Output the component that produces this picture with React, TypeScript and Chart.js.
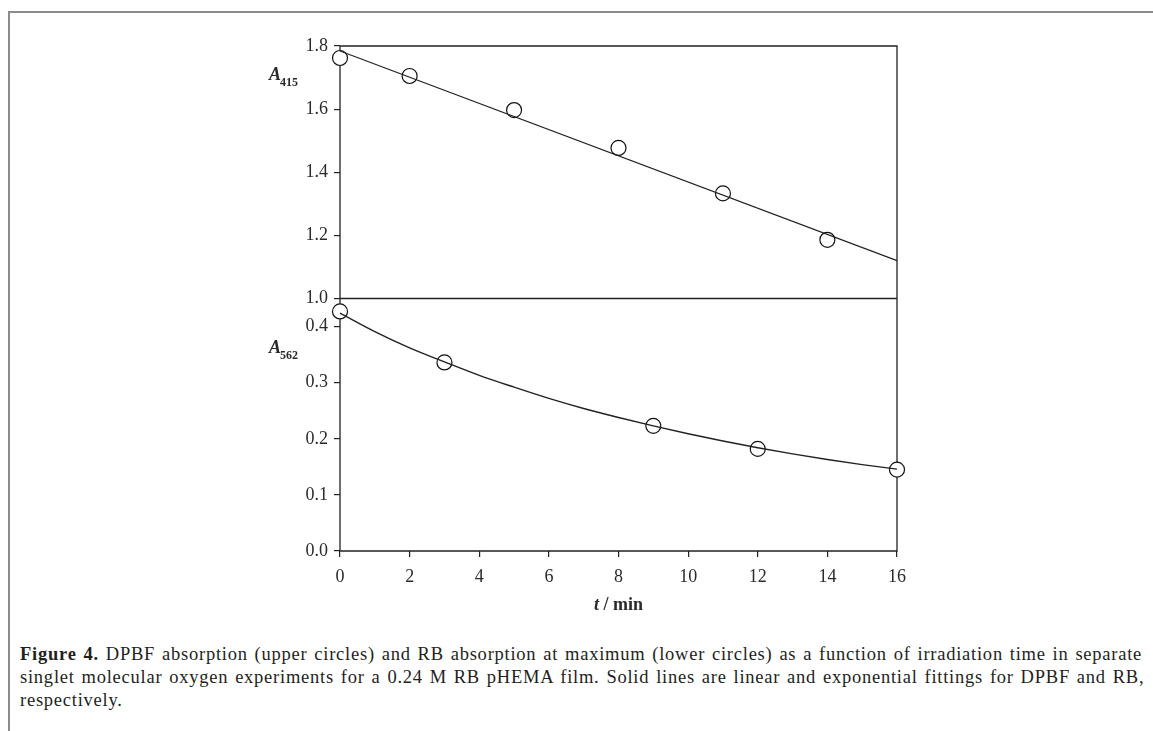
import React, { useEffect, useRef } from 'react';
import { Chart, registerables } from 'chart.js';

Chart.register(...registerables);

// ---- data ----
const X_TICKS = [0, 2, 4, 6, 8, 10, 12, 14, 16];
const UPPER_TICKS = [1.0, 1.2, 1.4, 1.6, 1.8];
const LOWER_TICKS = [0.0, 0.1, 0.2, 0.3, 0.4];

const DPBF_T = [0, 2, 5, 8, 11, 14];
const DPBF_A = [1.762, 1.705, 1.597, 1.477, 1.333, 1.186];
const DPBF_FIT_T = [0, 16];
const DPBF_FIT_A = [1.784, 1.12];

const RB_T = [0, 3, 9, 12, 16];
const RB_A = [0.427, 0.336, 0.223, 0.182, 0.145];
const RB_FIT_T = [0, 1, 2, 3, 4, 5, 6, 7, 8, 9, 10, 11, 12, 13, 14, 15, 16];
const RB_FIT_A = [0.424, 0.391, 0.362, 0.337, 0.313, 0.292, 0.272, 0.254, 0.238, 0.223, 0.209, 0.196, 0.184, 0.173, 0.163, 0.154, 0.146];

const LINE = '#222';
const TEXT = '#2a2a2a';
const FONT = '"Liberation Serif", "Times New Roman", serif';

const pts = (xs: number[], ys: number[]) => xs.map((x, i) => ({ x, y: ys[i] }));

const framePlugin = {
  id: 'frame',
  beforeDatasetsDraw(chart: any) {
    const { ctx, chartArea } = chart;
    const { left, right, top, bottom } = chartArea;
    const sep = chart.scales.yUp.bottom;
    ctx.save();
    ctx.strokeStyle = LINE;
    ctx.lineWidth = 1.3;
    ctx.beginPath();
    ctx.rect(left, top, right - left, bottom - top);
    ctx.moveTo(left, sep);
    ctx.lineTo(right, sep);
    ctx.stroke();
    ctx.restore();
  },
  afterDraw(chart: any) {
    const { ctx, chartArea } = chart;
    ctx.save();
    ctx.fillStyle = TEXT;
    ctx.textBaseline = 'alphabetic';
    const label = (x: number, y: number, sub: string) => {
      ctx.font = `italic bold 18px ${FONT}`;
      ctx.textAlign = 'left';
      ctx.fillText('A', x, y);
      const w = ctx.measureText('A').width;
      ctx.font = `bold 12px ${FONT}`;
      ctx.fillText(sub, x + w - 1, y + 6);
    };
    label(269, 80, '415');
    label(269, 353, '562');
    // x title: "t / min"
    const cx = (chartArea.left + chartArea.right) / 2;
    const y = 610;
    ctx.font = `italic bold 18px ${FONT}`;
    const wt = ctx.measureText('t').width;
    ctx.font = `bold 18px ${FONT}`;
    const wr = ctx.measureText(' / min').width;
    const x = cx - (wt + wr) / 2;
    ctx.font = `italic bold 18px ${FONT}`;
    ctx.fillText('t', x, y);
    ctx.font = `bold 18px ${FONT}`;
    ctx.fillText(' / min', x + wt, y);
    ctx.restore();
  },
};

export default function App() {
  const ref = useRef<HTMLCanvasElement | null>(null);

  useEffect(() => {
    if (!ref.current) return;
    const tickFont = { family: FONT, size: 18 };
    const chart = new Chart(ref.current, {
      type: 'scatter',
      data: {
        datasets: [
          {
            data: pts(DPBF_FIT_T, DPBF_FIT_A),
            yAxisID: 'yUp',
            showLine: true,
            borderColor: LINE,
            borderWidth: 1.1,
            pointRadius: 0,
            order: 0,
            clip: false as any,
          },
          {
            data: pts(RB_FIT_T, RB_FIT_A),
            yAxisID: 'yLow',
            showLine: true,
            borderColor: LINE,
            borderWidth: 1.4,
            pointRadius: 0,
            cubicInterpolationMode: 'monotone',
            order: 0,
            clip: false as any,
          },
          {
            data: pts(DPBF_T, DPBF_A),
            yAxisID: 'yUp',
            showLine: false,
            pointRadius: 7.5,
            pointBorderWidth: 1.2,
            pointBackgroundColor: '#fff',
            pointBorderColor: '#111',
            order: 1,
            clip: false as any,
          },
          {
            data: pts(RB_T, RB_A),
            yAxisID: 'yLow',
            showLine: false,
            pointRadius: 7.5,
            pointBorderWidth: 1.2,
            pointBackgroundColor: '#fff',
            pointBorderColor: '#111',
            order: 1,
            clip: false as any,
          },
        ],
      },
      options: {
        animation: false,
        responsive: false,
        maintainAspectRatio: false,
        layout: { padding: { left: 0, top: 46, right: 256, bottom: 0 } },
        plugins: { legend: { display: false }, tooltip: { enabled: false } },
        scales: {
          x: {
            type: 'linear',
            min: 0,
            max: 16,
            afterBuildTicks: (s: any) => { s.ticks = X_TICKS.map((v) => ({ value: v })); },
            afterFit: (s: any) => { s.height = 640 - 551; },
            ticks: { font: tickFont, color: TEXT, padding: 9, maxRotation: 0, autoSkip: false, callback: (v: any) => String(v) },
            grid: { drawOnChartArea: false, drawTicks: true, tickLength: 6, color: LINE, lineWidth: 1.2 },
            border: { display: false },
          },
          yLow: {
            type: 'linear',
            position: 'left',
            stack: 'panels',
            stackWeight: 1,
            min: 0,
            max: 0.45,
            afterBuildTicks: (s: any) => { s.ticks = LOWER_TICKS.map((v) => ({ value: v })); },
            afterFit: (s: any) => { s.width = 340; },
            ticks: { font: tickFont, color: TEXT, padding: 6, autoSkip: false, callback: (v: any) => Number(v).toFixed(1) },
            grid: { drawOnChartArea: false, drawTicks: true, tickLength: 6, color: LINE, lineWidth: 1.2 },
            border: { display: false },
          },
          yUp: {
            type: 'linear',
            position: 'left',
            stack: 'panels',
            stackWeight: 1,
            min: 1.0,
            max: 1.8,
            afterBuildTicks: (s: any) => { s.ticks = UPPER_TICKS.map((v) => ({ value: v })); },
            afterFit: (s: any) => { s.width = 340; },
            ticks: { font: tickFont, color: TEXT, padding: 6, autoSkip: false, callback: (v: any) => Number(v).toFixed(1) },
            grid: { drawOnChartArea: false, drawTicks: true, tickLength: 6, color: LINE, lineWidth: 1.2 },
            border: { display: false },
          },
        },
      } as any,
      plugins: [framePlugin],
    });
    return () => chart.destroy();
  }, []);

  return (
    <div style={{ position: 'fixed', left: 0, top: 0, width: 1153, height: 731, background: '#fff', overflow: 'hidden' }}>
      <div
        style={{
          position: 'absolute',
          left: 8,
          top: 11,
          right: 0,
          bottom: 0,
          borderTop: '2px solid #8c8c8c',
          borderLeft: '2px solid #8c8c8c',
        }}
      />
      <canvas ref={ref} width={1153} height={640} style={{ position: 'absolute', left: 0, top: 0, width: 1153, height: 640 }} />
      <div
        style={{
          position: 'absolute',
          left: 20,
          top: 643,
          whiteSpace: 'nowrap',
          fontFamily: FONT,
          fontSize: 18.5,
          lineHeight: '23px',
          color: '#231f20',
          letterSpacing: 0.76,
          wordSpacing: 1.5,
        }}
      >
        <b>Figure 4.</b> DPBF absorption (upper circles) and RB absorption at maximum (lower circles) as a function of irradiation time in separate
        <br />
        singlet molecular oxygen experiments for a 0.24 M RB pHEMA film. Solid lines are linear and exponential fittings for DPBF and RB,
        <br />
        respectively.
      </div>
    </div>
  );
}
